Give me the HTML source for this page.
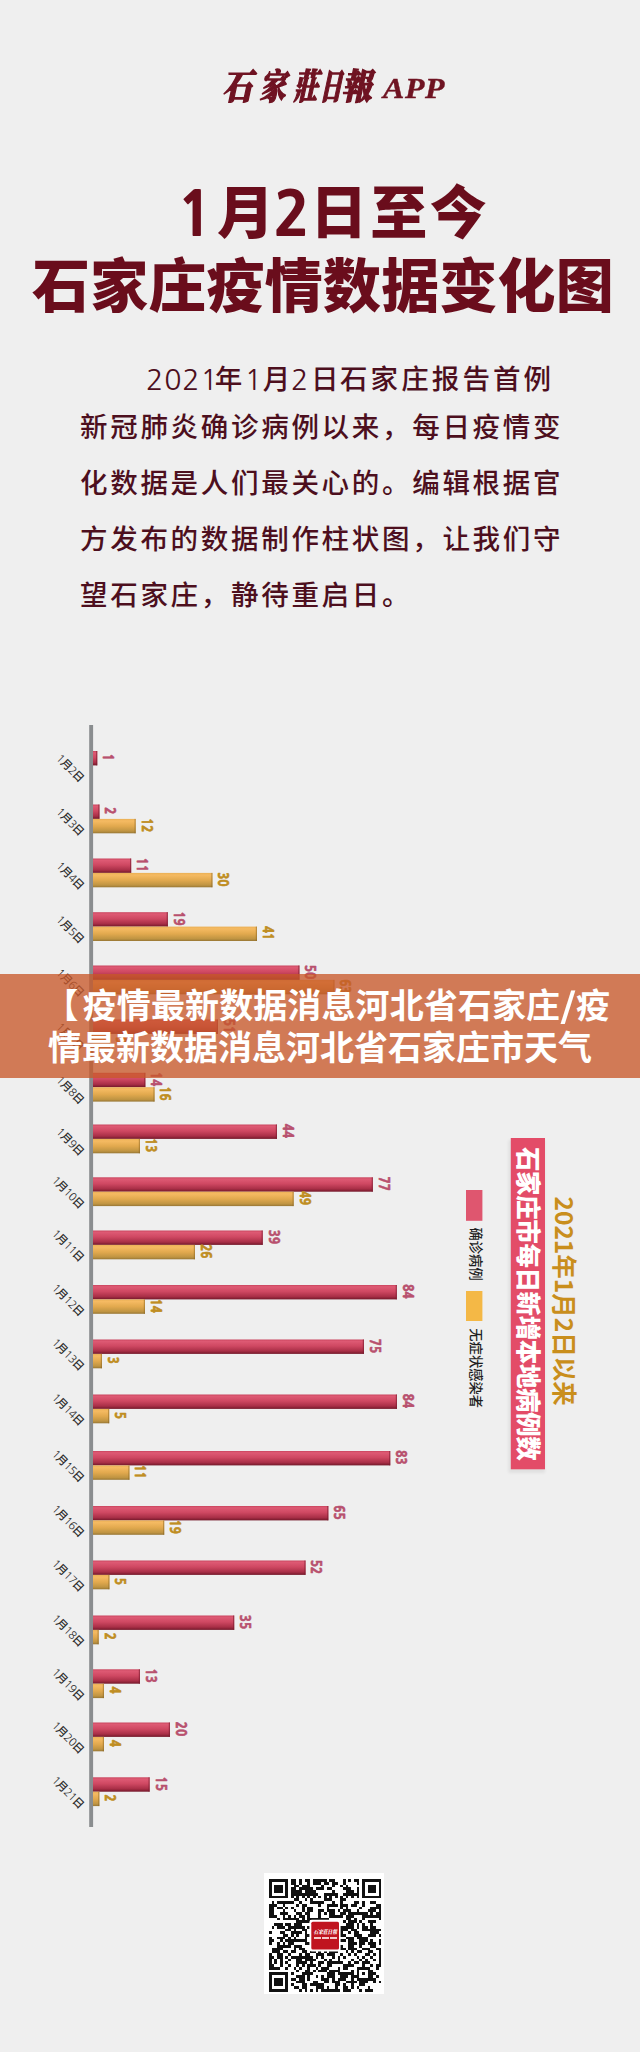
<!DOCTYPE html>
<html lang="zh-CN">
<head>
<meta charset="utf-8">
<title>石家庄疫情数据变化图</title>
<style>
html,body{margin:0;padding:0;}
body{width:640px;height:2052px;background:#efefef;position:relative;overflow:hidden;
  font-family:"Liberation Sans","Noto Sans CJK SC",sans-serif;}
.a{position:absolute;white-space:nowrap;}
.logo{left:221px;top:62px;font-family:"Noto Serif CJK TC","Noto Serif CJK SC",serif;font-weight:900;
  font-size:35px;color:#6f1322;transform:skewX(-12deg);transform-origin:0 100%;line-height:44px;width:200px;height:44px;-webkit-text-stroke:1.6px #6f1322;}
.logo span{position:absolute;top:0;display:inline-block;transform-origin:0 0;}
.app{left:383px;top:70px;font-family:"Liberation Serif",serif;font-weight:bold;font-style:italic;font-size:29px;letter-spacing:0.6px;color:#6f1322;line-height:36px;transform:scaleX(1.1);transform-origin:0 0;-webkit-text-stroke:0.4px #6f1322;}
.t1,.t2{font-family:"Noto Sans CJK SC",sans-serif;font-weight:900;color:#6a0d1c;line-height:70px;}
.t1 span{position:relative;}
.t1 .c{top:-3px;}
.t1 .d{font-family:"NanumGothic",sans-serif;font-weight:800;font-size:61px;}
.t1{left:177px;top:176px;font-size:57px;}
.t2{left:32px;top:247px;font-size:58px;letter-spacing:0.2px;}
.p{font-family:"Liberation Sans","Noto Sans CJK SC",sans-serif;font-weight:500;font-size:27.5px;letter-spacing:2.7px;color:#4d0f1e;line-height:40px;left:80px;}
.l1 span{position:absolute;top:0;}
.l1 .n{font-family:"NanumGothic",sans-serif;font-weight:normal;font-size:28.5px;letter-spacing:0.9px;}
.chart,.qr{position:absolute;left:0;top:0;}
.chart text{font-family:"Liberation Sans","Noto Sans CJK SC",sans-serif;}
.vp{font-family:'NanumGothic',sans-serif !important;font-size:13px;font-weight:800;fill:#b8506e;stroke:#b8506e;stroke-width:0.6px;}
.vg{font-family:'NanumGothic',sans-serif !important;font-size:13px;font-weight:800;fill:#bf8d22;stroke:#bf8d22;stroke-width:0.6px;}
.dl{font-size:11px;font-weight:500;fill:#2c2c2c;letter-spacing:-0.45px;}
.dn{font-family:'NanumGothic',sans-serif;}
.vt{font-family:"Noto Sans CJK SC",sans-serif !important;font-size:24.5px;font-weight:900;letter-spacing:-0.4px;fill:#fff;}
.st{font-family:"Noto Sans CJK SC",sans-serif !important;font-size:24.5px;font-weight:bold;letter-spacing:0;fill:#c98e1c;}
.lg{font-family:"Noto Sans CJK SC",sans-serif !important;font-size:13.3px;font-weight:500;fill:#1e1e1e;}
.banner{left:0;top:974px;width:640px;height:103.5px;background:rgba(200,88,42,0.78);}
.b1 span{position:absolute;top:0;}
.bt{left:50px;font-family:"Noto Sans CJK SC",sans-serif;font-weight:bold;font-size:34px;color:#fff;line-height:42px;}
</style>
</head>
<body>
<div class="a logo"><span style="left:0;transform:scaleX(0.84)">石</span><span style="left:37px;transform:scaleX(0.74)">家</span><span style="left:70.5px;transform:scaleX(0.68)">莊</span><span style="left:97px;transform:scaleX(0.62)">日</span><span style="left:118.5px;transform:scaleX(0.85)">報</span></div>
<div class="a app">APP</div>
<div class="a t1"><span class="d">1</span><span class="c" style="left:3.1px">月</span><span class="d" style="left:2.3px">2</span><span class="c" style="left:2.4px">日</span><span class="c" style="left:5.3px">至</span><span class="c" style="left:7.9px">今</span></div>
<div class="a t2">石家庄疫情数据变化图</div>
<div class="a p l1" style="top:360.3px;left:0;"><span class="n" style="left:146px">2021</span><span style="left:214.8px">年</span><span class="n" style="left:244.8px">1</span><span style="left:262.75px">月</span><span class="n" style="left:291px">2</span><span style="left:311px">日</span><span style="left:340px;letter-spacing:3.1px">石家庄报告首例</span></div>
<div class="a p" style="top:408.1px;">新冠肺炎确诊病例以来，每日疫情变</div>
<div class="a p" style="top:463.75px;">化数据是人们最关心的。编辑根据官</div>
<div class="a p" style="top:520px;">方发布的数据制作柱状图，让我们守</div>
<div class="a p" style="top:576.25px;">望石家庄，静待重启日。</div>
<svg class="chart" width="640" height="2052" viewBox="0 0 640 2052">
<defs>
<linearGradient id="gp" x1="0" y1="0" x2="0" y2="1">
<stop offset="0" stop-color="#c9445d"/><stop offset="0.12" stop-color="#de5a74"/><stop offset="0.45" stop-color="#cf4862"/><stop offset="0.8" stop-color="#a92f47"/><stop offset="1" stop-color="#73182a"/>
</linearGradient>
<linearGradient id="gg" x1="0" y1="0" x2="0" y2="1">
<stop offset="0" stop-color="#eab056"/><stop offset="0.15" stop-color="#f5ba62"/><stop offset="0.5" stop-color="#e2a94e"/><stop offset="0.85" stop-color="#bf9442"/><stop offset="1" stop-color="#977634"/>
</linearGradient>
<filter id="blur" x="-20%" y="-20%" width="140%" height="140%"><feGaussianBlur stdDeviation="1.5"/></filter>
</defs>
<rect x="89.2" y="725" width="3.9" height="1102" fill="#8a8d8f"/>

<rect x="93.0" y="751.0" width="4.30" height="14.4" fill="url(#gp)"/>
<rect x="96.10" y="751.0" width="1.2" height="14.4" fill="#7a1a2e" opacity="0.6"/>
<text class="vp" text-anchor="middle" transform="translate(103.10,757.40) rotate(90) scale(0.9,1)">1</text>
<text class="dl" text-anchor="end" transform="translate(79.3,782.80) rotate(45)"><tspan class="dn">1</tspan>月<tspan class="dn">2</tspan>日</text>
<rect x="93.0" y="804.5" width="6.50" height="14.4" fill="url(#gp)"/>
<rect x="98.30" y="804.5" width="1.2" height="14.4" fill="#7a1a2e" opacity="0.6"/>
<text class="vp" text-anchor="middle" transform="translate(105.30,810.90) rotate(90) scale(0.9,1)">2</text>
<rect x="93.0" y="818.90" width="42.75" height="14.4" fill="url(#gg)"/>
<rect x="134.55" y="818.90" width="1.2" height="14.4" fill="#8a6420" opacity="0.5"/>
<text class="vg" text-anchor="middle" transform="translate(141.55,825.30) rotate(90) scale(0.9,1)">12</text>
<text class="dl" text-anchor="end" transform="translate(79.3,836.30) rotate(45)"><tspan class="dn">1</tspan>月<tspan class="dn">3</tspan>日</text>
<rect x="93.0" y="858.5" width="38.20" height="14.4" fill="url(#gp)"/>
<rect x="130.00" y="858.5" width="1.2" height="14.4" fill="#7a1a2e" opacity="0.6"/>
<text class="vp" text-anchor="middle" transform="translate(137.00,864.90) rotate(90) scale(0.9,1)">11</text>
<rect x="93.0" y="872.90" width="119.50" height="14.4" fill="url(#gg)"/>
<rect x="211.30" y="872.90" width="1.2" height="14.4" fill="#8a6420" opacity="0.5"/>
<text class="vg" text-anchor="middle" transform="translate(218.30,879.30) rotate(90) scale(0.9,1)">30</text>
<text class="dl" text-anchor="end" transform="translate(79.3,890.30) rotate(45)"><tspan class="dn">1</tspan>月<tspan class="dn">4</tspan>日</text>
<rect x="93.0" y="912.2" width="74.90" height="14.4" fill="url(#gp)"/>
<rect x="166.70" y="912.2" width="1.2" height="14.4" fill="#7a1a2e" opacity="0.6"/>
<text class="vp" text-anchor="middle" transform="translate(173.70,918.60) rotate(90) scale(0.9,1)">19</text>
<rect x="93.0" y="926.60" width="164.00" height="14.4" fill="url(#gg)"/>
<rect x="255.80" y="926.60" width="1.2" height="14.4" fill="#8a6420" opacity="0.5"/>
<text class="vg" text-anchor="middle" transform="translate(262.80,933.00) rotate(90) scale(0.9,1)">41</text>
<text class="dl" text-anchor="end" transform="translate(79.3,944.00) rotate(45)"><tspan class="dn">1</tspan>月<tspan class="dn">5</tspan>日</text>
<rect x="93.0" y="965.5" width="206.50" height="14.4" fill="url(#gp)"/>
<rect x="298.30" y="965.5" width="1.2" height="14.4" fill="#7a1a2e" opacity="0.6"/>
<text class="vp" text-anchor="middle" transform="translate(305.30,971.90) rotate(90) scale(0.9,1)">50</text>
<rect x="93.0" y="979.90" width="241.50" height="14.4" fill="url(#gg)"/>
<rect x="333.30" y="979.90" width="1.2" height="14.4" fill="#8a6420" opacity="0.5"/>
<text class="vg" text-anchor="middle" transform="translate(340.30,986.30) rotate(90) scale(0.9,1)">63</text>
<text class="dl" text-anchor="end" transform="translate(79.3,997.30) rotate(45)"><tspan class="dn">1</tspan>月<tspan class="dn">6</tspan>日</text>
<rect x="93.0" y="1019.5" width="125.00" height="14.4" fill="url(#gp)"/>
<rect x="216.80" y="1019.5" width="1.2" height="14.4" fill="#7a1a2e" opacity="0.6"/>
<text class="vp" text-anchor="middle" transform="translate(223.80,1025.90) rotate(90) scale(0.9,1)">51</text>
<rect x="93.0" y="1033.90" width="17.00" height="14.4" fill="url(#gg)"/>
<rect x="108.80" y="1033.90" width="1.2" height="14.4" fill="#8a6420" opacity="0.5"/>
<text class="vg" text-anchor="middle" transform="translate(115.80,1040.30) rotate(90) scale(0.9,1)">9</text>
<text class="dl" text-anchor="end" transform="translate(79.3,1051.30) rotate(45)"><tspan class="dn">1</tspan>月<tspan class="dn">7</tspan>日</text>
<rect x="93.0" y="1072.8" width="52.40" height="14.4" fill="url(#gp)"/>
<rect x="144.20" y="1072.8" width="1.2" height="14.4" fill="#7a1a2e" opacity="0.6"/>
<text class="vp" text-anchor="middle" transform="translate(151.20,1079.20) rotate(90) scale(0.9,1)">14</text>
<rect x="93.0" y="1087.20" width="61.60" height="14.4" fill="url(#gg)"/>
<rect x="153.40" y="1087.20" width="1.2" height="14.4" fill="#8a6420" opacity="0.5"/>
<text class="vg" text-anchor="middle" transform="translate(160.40,1093.60) rotate(90) scale(0.9,1)">16</text>
<text class="dl" text-anchor="end" transform="translate(79.3,1104.60) rotate(45)"><tspan class="dn">1</tspan>月<tspan class="dn">8</tspan>日</text>
<rect x="93.0" y="1124.5" width="184.00" height="14.4" fill="url(#gp)"/>
<rect x="275.80" y="1124.5" width="1.2" height="14.4" fill="#7a1a2e" opacity="0.6"/>
<text class="vp" text-anchor="middle" transform="translate(282.80,1130.90) rotate(90) scale(0.9,1)">44</text>
<rect x="93.0" y="1138.90" width="47.00" height="14.4" fill="url(#gg)"/>
<rect x="138.80" y="1138.90" width="1.2" height="14.4" fill="#8a6420" opacity="0.5"/>
<text class="vg" text-anchor="middle" transform="translate(145.80,1145.30) rotate(90) scale(0.9,1)">13</text>
<text class="dl" text-anchor="end" transform="translate(79.3,1156.30) rotate(45)"><tspan class="dn">1</tspan>月<tspan class="dn">9</tspan>日</text>
<rect x="93.0" y="1177.3" width="279.90" height="14.4" fill="url(#gp)"/>
<rect x="371.70" y="1177.3" width="1.2" height="14.4" fill="#7a1a2e" opacity="0.6"/>
<text class="vp" text-anchor="middle" transform="translate(378.70,1183.70) rotate(90) scale(0.9,1)">77</text>
<rect x="93.0" y="1191.70" width="200.75" height="14.4" fill="url(#gg)"/>
<rect x="292.55" y="1191.70" width="1.2" height="14.4" fill="#8a6420" opacity="0.5"/>
<text class="vg" text-anchor="middle" transform="translate(299.55,1198.10) rotate(90) scale(0.9,1)">49</text>
<text class="dl" text-anchor="end" transform="translate(79.3,1209.10) rotate(45)"><tspan class="dn">1</tspan>月<tspan class="dn">10</tspan>日</text>
<rect x="93.0" y="1230.5" width="169.80" height="14.4" fill="url(#gp)"/>
<rect x="261.60" y="1230.5" width="1.2" height="14.4" fill="#7a1a2e" opacity="0.6"/>
<text class="vp" text-anchor="middle" transform="translate(268.60,1236.90) rotate(90) scale(0.9,1)">39</text>
<rect x="93.0" y="1244.90" width="102.00" height="14.4" fill="url(#gg)"/>
<rect x="193.80" y="1244.90" width="1.2" height="14.4" fill="#8a6420" opacity="0.5"/>
<text class="vg" text-anchor="middle" transform="translate(200.80,1251.30) rotate(90) scale(0.9,1)">26</text>
<text class="dl" text-anchor="end" transform="translate(79.3,1262.30) rotate(45)"><tspan class="dn">1</tspan>月<tspan class="dn">11</tspan>日</text>
<rect x="93.0" y="1285.0" width="303.90" height="14.4" fill="url(#gp)"/>
<rect x="395.70" y="1285.0" width="1.2" height="14.4" fill="#7a1a2e" opacity="0.6"/>
<text class="vp" text-anchor="middle" transform="translate(402.70,1291.40) rotate(90) scale(0.9,1)">84</text>
<rect x="93.0" y="1299.40" width="52.00" height="14.4" fill="url(#gg)"/>
<rect x="143.80" y="1299.40" width="1.2" height="14.4" fill="#8a6420" opacity="0.5"/>
<text class="vg" text-anchor="middle" transform="translate(150.80,1305.80) rotate(90) scale(0.9,1)">14</text>
<text class="dl" text-anchor="end" transform="translate(79.3,1316.80) rotate(45)"><tspan class="dn">1</tspan>月<tspan class="dn">12</tspan>日</text>
<rect x="93.0" y="1339.5" width="271.00" height="14.4" fill="url(#gp)"/>
<rect x="362.80" y="1339.5" width="1.2" height="14.4" fill="#7a1a2e" opacity="0.6"/>
<text class="vp" text-anchor="middle" transform="translate(369.80,1345.90) rotate(90) scale(0.9,1)">75</text>
<rect x="93.0" y="1353.90" width="9.00" height="14.4" fill="url(#gg)"/>
<rect x="100.80" y="1353.90" width="1.2" height="14.4" fill="#8a6420" opacity="0.5"/>
<text class="vg" text-anchor="middle" transform="translate(107.80,1360.30) rotate(90) scale(0.9,1)">3</text>
<text class="dl" text-anchor="end" transform="translate(79.3,1371.30) rotate(45)"><tspan class="dn">1</tspan>月<tspan class="dn">13</tspan>日</text>
<rect x="93.0" y="1394.5" width="304.00" height="14.4" fill="url(#gp)"/>
<rect x="395.80" y="1394.5" width="1.2" height="14.4" fill="#7a1a2e" opacity="0.6"/>
<text class="vp" text-anchor="middle" transform="translate(402.80,1400.90) rotate(90) scale(0.9,1)">84</text>
<rect x="93.0" y="1408.90" width="16.25" height="14.4" fill="url(#gg)"/>
<rect x="108.05" y="1408.90" width="1.2" height="14.4" fill="#8a6420" opacity="0.5"/>
<text class="vg" text-anchor="middle" transform="translate(115.05,1415.30) rotate(90) scale(0.9,1)">5</text>
<text class="dl" text-anchor="end" transform="translate(79.3,1426.30) rotate(45)"><tspan class="dn">1</tspan>月<tspan class="dn">14</tspan>日</text>
<rect x="93.0" y="1451.0" width="297.30" height="14.4" fill="url(#gp)"/>
<rect x="389.10" y="1451.0" width="1.2" height="14.4" fill="#7a1a2e" opacity="0.6"/>
<text class="vp" text-anchor="middle" transform="translate(396.10,1457.40) rotate(90) scale(0.9,1)">83</text>
<rect x="93.0" y="1465.40" width="36.50" height="14.4" fill="url(#gg)"/>
<rect x="128.30" y="1465.40" width="1.2" height="14.4" fill="#8a6420" opacity="0.5"/>
<text class="vg" text-anchor="middle" transform="translate(135.30,1471.80) rotate(90) scale(0.9,1)">11</text>
<text class="dl" text-anchor="end" transform="translate(79.3,1482.80) rotate(45)"><tspan class="dn">1</tspan>月<tspan class="dn">15</tspan>日</text>
<rect x="93.0" y="1506.0" width="235.40" height="14.4" fill="url(#gp)"/>
<rect x="327.20" y="1506.0" width="1.2" height="14.4" fill="#7a1a2e" opacity="0.6"/>
<text class="vp" text-anchor="middle" transform="translate(334.20,1512.40) rotate(90) scale(0.9,1)">65</text>
<rect x="93.0" y="1520.40" width="71.25" height="14.4" fill="url(#gg)"/>
<rect x="163.05" y="1520.40" width="1.2" height="14.4" fill="#8a6420" opacity="0.5"/>
<text class="vg" text-anchor="middle" transform="translate(170.05,1526.80) rotate(90) scale(0.9,1)">19</text>
<text class="dl" text-anchor="end" transform="translate(79.3,1537.80) rotate(45)"><tspan class="dn">1</tspan>月<tspan class="dn">16</tspan>日</text>
<rect x="93.0" y="1560.5" width="212.60" height="14.4" fill="url(#gp)"/>
<rect x="304.40" y="1560.5" width="1.2" height="14.4" fill="#7a1a2e" opacity="0.6"/>
<text class="vp" text-anchor="middle" transform="translate(311.40,1566.90) rotate(90) scale(0.9,1)">52</text>
<rect x="93.0" y="1574.90" width="16.50" height="14.4" fill="url(#gg)"/>
<rect x="108.30" y="1574.90" width="1.2" height="14.4" fill="#8a6420" opacity="0.5"/>
<text class="vg" text-anchor="middle" transform="translate(115.30,1581.30) rotate(90) scale(0.9,1)">5</text>
<text class="dl" text-anchor="end" transform="translate(79.3,1592.30) rotate(45)"><tspan class="dn">1</tspan>月<tspan class="dn">17</tspan>日</text>
<rect x="93.0" y="1615.5" width="141.25" height="14.4" fill="url(#gp)"/>
<rect x="233.05" y="1615.5" width="1.2" height="14.4" fill="#7a1a2e" opacity="0.6"/>
<text class="vp" text-anchor="middle" transform="translate(240.05,1621.90) rotate(90) scale(0.9,1)">35</text>
<rect x="93.0" y="1629.90" width="5.75" height="14.4" fill="url(#gg)"/>
<rect x="97.55" y="1629.90" width="1.2" height="14.4" fill="#8a6420" opacity="0.5"/>
<text class="vg" text-anchor="middle" transform="translate(104.55,1636.30) rotate(90) scale(0.9,1)">2</text>
<text class="dl" text-anchor="end" transform="translate(79.3,1647.30) rotate(45)"><tspan class="dn">1</tspan>月<tspan class="dn">18</tspan>日</text>
<rect x="93.0" y="1669.3" width="47.00" height="14.4" fill="url(#gp)"/>
<rect x="138.80" y="1669.3" width="1.2" height="14.4" fill="#7a1a2e" opacity="0.6"/>
<text class="vp" text-anchor="middle" transform="translate(145.80,1675.70) rotate(90) scale(0.9,1)">13</text>
<rect x="93.0" y="1683.70" width="11.00" height="14.4" fill="url(#gg)"/>
<rect x="102.80" y="1683.70" width="1.2" height="14.4" fill="#8a6420" opacity="0.5"/>
<text class="vg" text-anchor="middle" transform="translate(109.80,1690.10) rotate(90) scale(0.9,1)">4</text>
<text class="dl" text-anchor="end" transform="translate(79.3,1701.10) rotate(45)"><tspan class="dn">1</tspan>月<tspan class="dn">19</tspan>日</text>
<rect x="93.0" y="1722.5" width="77.00" height="14.4" fill="url(#gp)"/>
<rect x="168.80" y="1722.5" width="1.2" height="14.4" fill="#7a1a2e" opacity="0.6"/>
<text class="vp" text-anchor="middle" transform="translate(175.80,1728.90) rotate(90) scale(0.9,1)">20</text>
<rect x="93.0" y="1736.90" width="11.00" height="14.4" fill="url(#gg)"/>
<rect x="102.80" y="1736.90" width="1.2" height="14.4" fill="#8a6420" opacity="0.5"/>
<text class="vg" text-anchor="middle" transform="translate(109.80,1743.30) rotate(90) scale(0.9,1)">4</text>
<text class="dl" text-anchor="end" transform="translate(79.3,1754.30) rotate(45)"><tspan class="dn">1</tspan>月<tspan class="dn">20</tspan>日</text>
<rect x="93.0" y="1777.3" width="56.70" height="14.4" fill="url(#gp)"/>
<rect x="148.50" y="1777.3" width="1.2" height="14.4" fill="#7a1a2e" opacity="0.6"/>
<text class="vp" text-anchor="middle" transform="translate(155.50,1783.70) rotate(90) scale(0.9,1)">15</text>
<rect x="93.0" y="1791.70" width="6.40" height="14.4" fill="url(#gg)"/>
<rect x="98.20" y="1791.70" width="1.2" height="14.4" fill="#8a6420" opacity="0.5"/>
<text class="vg" text-anchor="middle" transform="translate(105.20,1798.10) rotate(90) scale(0.9,1)">2</text>
<text class="dl" text-anchor="end" transform="translate(79.3,1809.10) rotate(45)"><tspan class="dn">1</tspan>月<tspan class="dn">21</tspan>日</text>
<rect x="508.5" y="1140" width="36.5" height="333" fill="#000" opacity="0.06" filter="url(#blur)"/>
<rect x="510.8" y="1138" width="34.2" height="331.3" fill="#e34c68"/>
<text class="vt" transform="translate(518.7,1147) rotate(90)">石家庄市每日新增本地病例数</text>
<text class="st" transform="translate(555,1196.5) rotate(90)">2021年1月2日以来</text>
<rect x="466" y="1190" width="16.4" height="30.8" fill="#df566f"/>
<rect x="466" y="1291" width="16.4" height="30" fill="#f4b846"/>
<text class="lg" transform="translate(470.5,1227.5) rotate(90)">确诊病例</text>
<text class="lg" transform="translate(470.5,1328.3) rotate(90)">无症状感染者</text>

</svg>
<svg class="qr" width="640" height="2052" viewBox="0 0 640 2052" shape-rendering="crispEdges">
<rect x="263.7" y="1873" width="120.6" height="121" fill="#ffffff"/>
<path d="M269.00 1879.20h2.74v2.74h-2.74zM271.74 1879.20h2.74v2.74h-2.74zM274.48 1879.20h2.74v2.74h-2.74zM277.22 1879.20h2.74v2.74h-2.74zM279.96 1879.20h2.74v2.74h-2.74zM282.70 1879.20h2.74v2.74h-2.74zM285.44 1879.20h2.74v2.74h-2.74zM290.92 1879.20h2.74v2.74h-2.74zM293.66 1879.20h2.74v2.74h-2.74zM299.14 1879.20h2.74v2.74h-2.74zM304.62 1879.20h2.74v2.74h-2.74zM307.36 1879.20h2.74v2.74h-2.74zM312.84 1879.20h2.74v2.74h-2.74zM315.58 1879.20h2.74v2.74h-2.74zM318.32 1879.20h2.74v2.74h-2.74zM321.06 1879.20h2.74v2.74h-2.74zM323.80 1879.20h2.74v2.74h-2.74zM329.28 1879.20h2.74v2.74h-2.74zM332.02 1879.20h2.74v2.74h-2.74zM342.98 1879.20h2.74v2.74h-2.74zM348.46 1879.20h2.74v2.74h-2.74zM353.94 1879.20h2.74v2.74h-2.74zM356.68 1879.20h2.74v2.74h-2.74zM362.16 1879.20h2.74v2.74h-2.74zM364.90 1879.20h2.74v2.74h-2.74zM367.64 1879.20h2.74v2.74h-2.74zM370.38 1879.20h2.74v2.74h-2.74zM373.12 1879.20h2.74v2.74h-2.74zM375.86 1879.20h2.74v2.74h-2.74zM378.60 1879.20h2.74v2.74h-2.74zM269.00 1881.94h2.74v2.74h-2.74zM285.44 1881.94h2.74v2.74h-2.74zM290.92 1881.94h2.74v2.74h-2.74zM293.66 1881.94h2.74v2.74h-2.74zM299.14 1881.94h2.74v2.74h-2.74zM307.36 1881.94h2.74v2.74h-2.74zM312.84 1881.94h2.74v2.74h-2.74zM315.58 1881.94h2.74v2.74h-2.74zM318.32 1881.94h2.74v2.74h-2.74zM323.80 1881.94h2.74v2.74h-2.74zM326.54 1881.94h2.74v2.74h-2.74zM332.02 1881.94h2.74v2.74h-2.74zM334.76 1881.94h2.74v2.74h-2.74zM342.98 1881.94h2.74v2.74h-2.74zM356.68 1881.94h2.74v2.74h-2.74zM362.16 1881.94h2.74v2.74h-2.74zM378.60 1881.94h2.74v2.74h-2.74zM269.00 1884.68h2.74v2.74h-2.74zM274.48 1884.68h2.74v2.74h-2.74zM277.22 1884.68h2.74v2.74h-2.74zM279.96 1884.68h2.74v2.74h-2.74zM285.44 1884.68h2.74v2.74h-2.74zM293.66 1884.68h2.74v2.74h-2.74zM296.40 1884.68h2.74v2.74h-2.74zM301.88 1884.68h2.74v2.74h-2.74zM304.62 1884.68h2.74v2.74h-2.74zM307.36 1884.68h2.74v2.74h-2.74zM321.06 1884.68h2.74v2.74h-2.74zM332.02 1884.68h2.74v2.74h-2.74zM340.24 1884.68h2.74v2.74h-2.74zM345.72 1884.68h2.74v2.74h-2.74zM362.16 1884.68h2.74v2.74h-2.74zM367.64 1884.68h2.74v2.74h-2.74zM370.38 1884.68h2.74v2.74h-2.74zM373.12 1884.68h2.74v2.74h-2.74zM378.60 1884.68h2.74v2.74h-2.74zM269.00 1887.42h2.74v2.74h-2.74zM274.48 1887.42h2.74v2.74h-2.74zM277.22 1887.42h2.74v2.74h-2.74zM279.96 1887.42h2.74v2.74h-2.74zM285.44 1887.42h2.74v2.74h-2.74zM290.92 1887.42h2.74v2.74h-2.74zM293.66 1887.42h2.74v2.74h-2.74zM299.14 1887.42h2.74v2.74h-2.74zM301.88 1887.42h2.74v2.74h-2.74zM304.62 1887.42h2.74v2.74h-2.74zM307.36 1887.42h2.74v2.74h-2.74zM310.10 1887.42h2.74v2.74h-2.74zM315.58 1887.42h2.74v2.74h-2.74zM318.32 1887.42h2.74v2.74h-2.74zM321.06 1887.42h2.74v2.74h-2.74zM326.54 1887.42h2.74v2.74h-2.74zM329.28 1887.42h2.74v2.74h-2.74zM342.98 1887.42h2.74v2.74h-2.74zM345.72 1887.42h2.74v2.74h-2.74zM348.46 1887.42h2.74v2.74h-2.74zM356.68 1887.42h2.74v2.74h-2.74zM362.16 1887.42h2.74v2.74h-2.74zM367.64 1887.42h2.74v2.74h-2.74zM370.38 1887.42h2.74v2.74h-2.74zM373.12 1887.42h2.74v2.74h-2.74zM378.60 1887.42h2.74v2.74h-2.74zM269.00 1890.16h2.74v2.74h-2.74zM274.48 1890.16h2.74v2.74h-2.74zM277.22 1890.16h2.74v2.74h-2.74zM279.96 1890.16h2.74v2.74h-2.74zM285.44 1890.16h2.74v2.74h-2.74zM290.92 1890.16h2.74v2.74h-2.74zM293.66 1890.16h2.74v2.74h-2.74zM296.40 1890.16h2.74v2.74h-2.74zM299.14 1890.16h2.74v2.74h-2.74zM304.62 1890.16h2.74v2.74h-2.74zM307.36 1890.16h2.74v2.74h-2.74zM310.10 1890.16h2.74v2.74h-2.74zM312.84 1890.16h2.74v2.74h-2.74zM332.02 1890.16h2.74v2.74h-2.74zM345.72 1890.16h2.74v2.74h-2.74zM348.46 1890.16h2.74v2.74h-2.74zM351.20 1890.16h2.74v2.74h-2.74zM356.68 1890.16h2.74v2.74h-2.74zM362.16 1890.16h2.74v2.74h-2.74zM367.64 1890.16h2.74v2.74h-2.74zM370.38 1890.16h2.74v2.74h-2.74zM373.12 1890.16h2.74v2.74h-2.74zM378.60 1890.16h2.74v2.74h-2.74zM269.00 1892.90h2.74v2.74h-2.74zM285.44 1892.90h2.74v2.74h-2.74zM290.92 1892.90h2.74v2.74h-2.74zM293.66 1892.90h2.74v2.74h-2.74zM296.40 1892.90h2.74v2.74h-2.74zM299.14 1892.90h2.74v2.74h-2.74zM301.88 1892.90h2.74v2.74h-2.74zM304.62 1892.90h2.74v2.74h-2.74zM307.36 1892.90h2.74v2.74h-2.74zM310.10 1892.90h2.74v2.74h-2.74zM312.84 1892.90h2.74v2.74h-2.74zM315.58 1892.90h2.74v2.74h-2.74zM323.80 1892.90h2.74v2.74h-2.74zM326.54 1892.90h2.74v2.74h-2.74zM329.28 1892.90h2.74v2.74h-2.74zM332.02 1892.90h2.74v2.74h-2.74zM334.76 1892.90h2.74v2.74h-2.74zM342.98 1892.90h2.74v2.74h-2.74zM345.72 1892.90h2.74v2.74h-2.74zM348.46 1892.90h2.74v2.74h-2.74zM351.20 1892.90h2.74v2.74h-2.74zM353.94 1892.90h2.74v2.74h-2.74zM356.68 1892.90h2.74v2.74h-2.74zM362.16 1892.90h2.74v2.74h-2.74zM378.60 1892.90h2.74v2.74h-2.74zM269.00 1895.64h2.74v2.74h-2.74zM271.74 1895.64h2.74v2.74h-2.74zM274.48 1895.64h2.74v2.74h-2.74zM277.22 1895.64h2.74v2.74h-2.74zM279.96 1895.64h2.74v2.74h-2.74zM282.70 1895.64h2.74v2.74h-2.74zM285.44 1895.64h2.74v2.74h-2.74zM290.92 1895.64h2.74v2.74h-2.74zM296.40 1895.64h2.74v2.74h-2.74zM301.88 1895.64h2.74v2.74h-2.74zM307.36 1895.64h2.74v2.74h-2.74zM312.84 1895.64h2.74v2.74h-2.74zM318.32 1895.64h2.74v2.74h-2.74zM323.80 1895.64h2.74v2.74h-2.74zM329.28 1895.64h2.74v2.74h-2.74zM334.76 1895.64h2.74v2.74h-2.74zM340.24 1895.64h2.74v2.74h-2.74zM345.72 1895.64h2.74v2.74h-2.74zM351.20 1895.64h2.74v2.74h-2.74zM356.68 1895.64h2.74v2.74h-2.74zM362.16 1895.64h2.74v2.74h-2.74zM364.90 1895.64h2.74v2.74h-2.74zM367.64 1895.64h2.74v2.74h-2.74zM370.38 1895.64h2.74v2.74h-2.74zM373.12 1895.64h2.74v2.74h-2.74zM375.86 1895.64h2.74v2.74h-2.74zM378.60 1895.64h2.74v2.74h-2.74zM293.66 1898.38h2.74v2.74h-2.74zM296.40 1898.38h2.74v2.74h-2.74zM304.62 1898.38h2.74v2.74h-2.74zM310.10 1898.38h2.74v2.74h-2.74zM323.80 1898.38h2.74v2.74h-2.74zM326.54 1898.38h2.74v2.74h-2.74zM329.28 1898.38h2.74v2.74h-2.74zM340.24 1898.38h2.74v2.74h-2.74zM342.98 1898.38h2.74v2.74h-2.74zM271.74 1901.12h2.74v2.74h-2.74zM277.22 1901.12h2.74v2.74h-2.74zM279.96 1901.12h2.74v2.74h-2.74zM282.70 1901.12h2.74v2.74h-2.74zM285.44 1901.12h2.74v2.74h-2.74zM288.18 1901.12h2.74v2.74h-2.74zM290.92 1901.12h2.74v2.74h-2.74zM299.14 1901.12h2.74v2.74h-2.74zM310.10 1901.12h2.74v2.74h-2.74zM312.84 1901.12h2.74v2.74h-2.74zM315.58 1901.12h2.74v2.74h-2.74zM318.32 1901.12h2.74v2.74h-2.74zM321.06 1901.12h2.74v2.74h-2.74zM332.02 1901.12h2.74v2.74h-2.74zM340.24 1901.12h2.74v2.74h-2.74zM353.94 1901.12h2.74v2.74h-2.74zM356.68 1901.12h2.74v2.74h-2.74zM362.16 1901.12h2.74v2.74h-2.74zM370.38 1901.12h2.74v2.74h-2.74zM373.12 1901.12h2.74v2.74h-2.74zM269.00 1903.86h2.74v2.74h-2.74zM271.74 1903.86h2.74v2.74h-2.74zM274.48 1903.86h2.74v2.74h-2.74zM282.70 1903.86h2.74v2.74h-2.74zM296.40 1903.86h2.74v2.74h-2.74zM301.88 1903.86h2.74v2.74h-2.74zM304.62 1903.86h2.74v2.74h-2.74zM318.32 1903.86h2.74v2.74h-2.74zM326.54 1903.86h2.74v2.74h-2.74zM329.28 1903.86h2.74v2.74h-2.74zM332.02 1903.86h2.74v2.74h-2.74zM334.76 1903.86h2.74v2.74h-2.74zM340.24 1903.86h2.74v2.74h-2.74zM342.98 1903.86h2.74v2.74h-2.74zM345.72 1903.86h2.74v2.74h-2.74zM351.20 1903.86h2.74v2.74h-2.74zM353.94 1903.86h2.74v2.74h-2.74zM362.16 1903.86h2.74v2.74h-2.74zM375.86 1903.86h2.74v2.74h-2.74zM378.60 1903.86h2.74v2.74h-2.74zM269.00 1906.60h2.74v2.74h-2.74zM271.74 1906.60h2.74v2.74h-2.74zM277.22 1906.60h2.74v2.74h-2.74zM279.96 1906.60h2.74v2.74h-2.74zM285.44 1906.60h2.74v2.74h-2.74zM290.92 1906.60h2.74v2.74h-2.74zM301.88 1906.60h2.74v2.74h-2.74zM307.36 1906.60h2.74v2.74h-2.74zM310.10 1906.60h2.74v2.74h-2.74zM326.54 1906.60h2.74v2.74h-2.74zM340.24 1906.60h2.74v2.74h-2.74zM345.72 1906.60h2.74v2.74h-2.74zM359.42 1906.60h2.74v2.74h-2.74zM370.38 1906.60h2.74v2.74h-2.74zM373.12 1906.60h2.74v2.74h-2.74zM375.86 1906.60h2.74v2.74h-2.74zM378.60 1906.60h2.74v2.74h-2.74zM269.00 1909.34h2.74v2.74h-2.74zM271.74 1909.34h2.74v2.74h-2.74zM282.70 1909.34h2.74v2.74h-2.74zM293.66 1909.34h2.74v2.74h-2.74zM301.88 1909.34h2.74v2.74h-2.74zM307.36 1909.34h2.74v2.74h-2.74zM310.10 1909.34h2.74v2.74h-2.74zM318.32 1909.34h2.74v2.74h-2.74zM321.06 1909.34h2.74v2.74h-2.74zM326.54 1909.34h2.74v2.74h-2.74zM329.28 1909.34h2.74v2.74h-2.74zM332.02 1909.34h2.74v2.74h-2.74zM337.50 1909.34h2.74v2.74h-2.74zM342.98 1909.34h2.74v2.74h-2.74zM345.72 1909.34h2.74v2.74h-2.74zM348.46 1909.34h2.74v2.74h-2.74zM356.68 1909.34h2.74v2.74h-2.74zM367.64 1909.34h2.74v2.74h-2.74zM370.38 1909.34h2.74v2.74h-2.74zM373.12 1909.34h2.74v2.74h-2.74zM378.60 1909.34h2.74v2.74h-2.74zM269.00 1912.08h2.74v2.74h-2.74zM271.74 1912.08h2.74v2.74h-2.74zM279.96 1912.08h2.74v2.74h-2.74zM282.70 1912.08h2.74v2.74h-2.74zM285.44 1912.08h2.74v2.74h-2.74zM296.40 1912.08h2.74v2.74h-2.74zM299.14 1912.08h2.74v2.74h-2.74zM304.62 1912.08h2.74v2.74h-2.74zM307.36 1912.08h2.74v2.74h-2.74zM318.32 1912.08h2.74v2.74h-2.74zM323.80 1912.08h2.74v2.74h-2.74zM329.28 1912.08h2.74v2.74h-2.74zM332.02 1912.08h2.74v2.74h-2.74zM340.24 1912.08h2.74v2.74h-2.74zM342.98 1912.08h2.74v2.74h-2.74zM348.46 1912.08h2.74v2.74h-2.74zM351.20 1912.08h2.74v2.74h-2.74zM353.94 1912.08h2.74v2.74h-2.74zM356.68 1912.08h2.74v2.74h-2.74zM359.42 1912.08h2.74v2.74h-2.74zM362.16 1912.08h2.74v2.74h-2.74zM364.90 1912.08h2.74v2.74h-2.74zM370.38 1912.08h2.74v2.74h-2.74zM375.86 1912.08h2.74v2.74h-2.74zM378.60 1912.08h2.74v2.74h-2.74zM269.00 1914.82h2.74v2.74h-2.74zM271.74 1914.82h2.74v2.74h-2.74zM274.48 1914.82h2.74v2.74h-2.74zM282.70 1914.82h2.74v2.74h-2.74zM288.18 1914.82h2.74v2.74h-2.74zM293.66 1914.82h2.74v2.74h-2.74zM299.14 1914.82h2.74v2.74h-2.74zM301.88 1914.82h2.74v2.74h-2.74zM307.36 1914.82h2.74v2.74h-2.74zM318.32 1914.82h2.74v2.74h-2.74zM329.28 1914.82h2.74v2.74h-2.74zM332.02 1914.82h2.74v2.74h-2.74zM334.76 1914.82h2.74v2.74h-2.74zM337.50 1914.82h2.74v2.74h-2.74zM340.24 1914.82h2.74v2.74h-2.74zM345.72 1914.82h2.74v2.74h-2.74zM348.46 1914.82h2.74v2.74h-2.74zM351.20 1914.82h2.74v2.74h-2.74zM362.16 1914.82h2.74v2.74h-2.74zM364.90 1914.82h2.74v2.74h-2.74zM367.64 1914.82h2.74v2.74h-2.74zM370.38 1914.82h2.74v2.74h-2.74zM373.12 1914.82h2.74v2.74h-2.74zM375.86 1914.82h2.74v2.74h-2.74zM378.60 1914.82h2.74v2.74h-2.74zM277.22 1917.56h2.74v2.74h-2.74zM282.70 1917.56h2.74v2.74h-2.74zM285.44 1917.56h2.74v2.74h-2.74zM288.18 1917.56h2.74v2.74h-2.74zM290.92 1917.56h2.74v2.74h-2.74zM293.66 1917.56h2.74v2.74h-2.74zM296.40 1917.56h2.74v2.74h-2.74zM301.88 1917.56h2.74v2.74h-2.74zM307.36 1917.56h2.74v2.74h-2.74zM310.10 1917.56h2.74v2.74h-2.74zM312.84 1917.56h2.74v2.74h-2.74zM315.58 1917.56h2.74v2.74h-2.74zM318.32 1917.56h2.74v2.74h-2.74zM321.06 1917.56h2.74v2.74h-2.74zM323.80 1917.56h2.74v2.74h-2.74zM326.54 1917.56h2.74v2.74h-2.74zM345.72 1917.56h2.74v2.74h-2.74zM348.46 1917.56h2.74v2.74h-2.74zM353.94 1917.56h2.74v2.74h-2.74zM362.16 1917.56h2.74v2.74h-2.74zM378.60 1917.56h2.74v2.74h-2.74zM296.40 1920.30h2.74v2.74h-2.74zM299.14 1920.30h2.74v2.74h-2.74zM301.88 1920.30h2.74v2.74h-2.74zM304.62 1920.30h2.74v2.74h-2.74zM307.36 1920.30h2.74v2.74h-2.74zM323.80 1920.30h2.74v2.74h-2.74zM326.54 1920.30h2.74v2.74h-2.74zM342.98 1920.30h2.74v2.74h-2.74zM348.46 1920.30h2.74v2.74h-2.74zM351.20 1920.30h2.74v2.74h-2.74zM353.94 1920.30h2.74v2.74h-2.74zM359.42 1920.30h2.74v2.74h-2.74zM367.64 1920.30h2.74v2.74h-2.74zM370.38 1920.30h2.74v2.74h-2.74zM373.12 1920.30h2.74v2.74h-2.74zM274.48 1923.04h2.74v2.74h-2.74zM277.22 1923.04h2.74v2.74h-2.74zM279.96 1923.04h2.74v2.74h-2.74zM285.44 1923.04h2.74v2.74h-2.74zM288.18 1923.04h2.74v2.74h-2.74zM293.66 1923.04h2.74v2.74h-2.74zM296.40 1923.04h2.74v2.74h-2.74zM299.14 1923.04h2.74v2.74h-2.74zM310.10 1923.04h2.74v2.74h-2.74zM315.58 1923.04h2.74v2.74h-2.74zM318.32 1923.04h2.74v2.74h-2.74zM321.06 1923.04h2.74v2.74h-2.74zM326.54 1923.04h2.74v2.74h-2.74zM334.76 1923.04h2.74v2.74h-2.74zM337.50 1923.04h2.74v2.74h-2.74zM345.72 1923.04h2.74v2.74h-2.74zM348.46 1923.04h2.74v2.74h-2.74zM351.20 1923.04h2.74v2.74h-2.74zM356.68 1923.04h2.74v2.74h-2.74zM362.16 1923.04h2.74v2.74h-2.74zM370.38 1923.04h2.74v2.74h-2.74zM271.74 1925.78h2.74v2.74h-2.74zM277.22 1925.78h2.74v2.74h-2.74zM279.96 1925.78h2.74v2.74h-2.74zM282.70 1925.78h2.74v2.74h-2.74zM288.18 1925.78h2.74v2.74h-2.74zM290.92 1925.78h2.74v2.74h-2.74zM293.66 1925.78h2.74v2.74h-2.74zM296.40 1925.78h2.74v2.74h-2.74zM299.14 1925.78h2.74v2.74h-2.74zM301.88 1925.78h2.74v2.74h-2.74zM307.36 1925.78h2.74v2.74h-2.74zM315.58 1925.78h2.74v2.74h-2.74zM326.54 1925.78h2.74v2.74h-2.74zM329.28 1925.78h2.74v2.74h-2.74zM332.02 1925.78h2.74v2.74h-2.74zM340.24 1925.78h2.74v2.74h-2.74zM342.98 1925.78h2.74v2.74h-2.74zM345.72 1925.78h2.74v2.74h-2.74zM348.46 1925.78h2.74v2.74h-2.74zM351.20 1925.78h2.74v2.74h-2.74zM356.68 1925.78h2.74v2.74h-2.74zM362.16 1925.78h2.74v2.74h-2.74zM364.90 1925.78h2.74v2.74h-2.74zM370.38 1925.78h2.74v2.74h-2.74zM373.12 1925.78h2.74v2.74h-2.74zM285.44 1928.52h2.74v2.74h-2.74zM288.18 1928.52h2.74v2.74h-2.74zM293.66 1928.52h2.74v2.74h-2.74zM301.88 1928.52h2.74v2.74h-2.74zM304.62 1928.52h2.74v2.74h-2.74zM310.10 1928.52h2.74v2.74h-2.74zM312.84 1928.52h2.74v2.74h-2.74zM315.58 1928.52h2.74v2.74h-2.74zM318.32 1928.52h2.74v2.74h-2.74zM326.54 1928.52h2.74v2.74h-2.74zM332.02 1928.52h2.74v2.74h-2.74zM337.50 1928.52h2.74v2.74h-2.74zM340.24 1928.52h2.74v2.74h-2.74zM342.98 1928.52h2.74v2.74h-2.74zM345.72 1928.52h2.74v2.74h-2.74zM351.20 1928.52h2.74v2.74h-2.74zM353.94 1928.52h2.74v2.74h-2.74zM362.16 1928.52h2.74v2.74h-2.74zM364.90 1928.52h2.74v2.74h-2.74zM367.64 1928.52h2.74v2.74h-2.74zM370.38 1928.52h2.74v2.74h-2.74zM373.12 1928.52h2.74v2.74h-2.74zM375.86 1928.52h2.74v2.74h-2.74zM378.60 1928.52h2.74v2.74h-2.74zM269.00 1931.26h2.74v2.74h-2.74zM279.96 1931.26h2.74v2.74h-2.74zM282.70 1931.26h2.74v2.74h-2.74zM290.92 1931.26h2.74v2.74h-2.74zM293.66 1931.26h2.74v2.74h-2.74zM296.40 1931.26h2.74v2.74h-2.74zM299.14 1931.26h2.74v2.74h-2.74zM304.62 1931.26h2.74v2.74h-2.74zM315.58 1931.26h2.74v2.74h-2.74zM318.32 1931.26h2.74v2.74h-2.74zM321.06 1931.26h2.74v2.74h-2.74zM323.80 1931.26h2.74v2.74h-2.74zM326.54 1931.26h2.74v2.74h-2.74zM337.50 1931.26h2.74v2.74h-2.74zM340.24 1931.26h2.74v2.74h-2.74zM348.46 1931.26h2.74v2.74h-2.74zM353.94 1931.26h2.74v2.74h-2.74zM356.68 1931.26h2.74v2.74h-2.74zM370.38 1931.26h2.74v2.74h-2.74zM373.12 1931.26h2.74v2.74h-2.74zM375.86 1931.26h2.74v2.74h-2.74zM282.70 1934.00h2.74v2.74h-2.74zM285.44 1934.00h2.74v2.74h-2.74zM290.92 1934.00h2.74v2.74h-2.74zM296.40 1934.00h2.74v2.74h-2.74zM304.62 1934.00h2.74v2.74h-2.74zM307.36 1934.00h2.74v2.74h-2.74zM310.10 1934.00h2.74v2.74h-2.74zM318.32 1934.00h2.74v2.74h-2.74zM321.06 1934.00h2.74v2.74h-2.74zM329.28 1934.00h2.74v2.74h-2.74zM332.02 1934.00h2.74v2.74h-2.74zM337.50 1934.00h2.74v2.74h-2.74zM340.24 1934.00h2.74v2.74h-2.74zM342.98 1934.00h2.74v2.74h-2.74zM353.94 1934.00h2.74v2.74h-2.74zM356.68 1934.00h2.74v2.74h-2.74zM359.42 1934.00h2.74v2.74h-2.74zM367.64 1934.00h2.74v2.74h-2.74zM370.38 1934.00h2.74v2.74h-2.74zM373.12 1934.00h2.74v2.74h-2.74zM378.60 1934.00h2.74v2.74h-2.74zM269.00 1936.74h2.74v2.74h-2.74zM277.22 1936.74h2.74v2.74h-2.74zM279.96 1936.74h2.74v2.74h-2.74zM282.70 1936.74h2.74v2.74h-2.74zM288.18 1936.74h2.74v2.74h-2.74zM293.66 1936.74h2.74v2.74h-2.74zM304.62 1936.74h2.74v2.74h-2.74zM310.10 1936.74h2.74v2.74h-2.74zM315.58 1936.74h2.74v2.74h-2.74zM318.32 1936.74h2.74v2.74h-2.74zM323.80 1936.74h2.74v2.74h-2.74zM329.28 1936.74h2.74v2.74h-2.74zM332.02 1936.74h2.74v2.74h-2.74zM334.76 1936.74h2.74v2.74h-2.74zM337.50 1936.74h2.74v2.74h-2.74zM345.72 1936.74h2.74v2.74h-2.74zM348.46 1936.74h2.74v2.74h-2.74zM351.20 1936.74h2.74v2.74h-2.74zM356.68 1936.74h2.74v2.74h-2.74zM359.42 1936.74h2.74v2.74h-2.74zM362.16 1936.74h2.74v2.74h-2.74zM364.90 1936.74h2.74v2.74h-2.74zM269.00 1939.48h2.74v2.74h-2.74zM271.74 1939.48h2.74v2.74h-2.74zM279.96 1939.48h2.74v2.74h-2.74zM285.44 1939.48h2.74v2.74h-2.74zM288.18 1939.48h2.74v2.74h-2.74zM290.92 1939.48h2.74v2.74h-2.74zM293.66 1939.48h2.74v2.74h-2.74zM296.40 1939.48h2.74v2.74h-2.74zM299.14 1939.48h2.74v2.74h-2.74zM301.88 1939.48h2.74v2.74h-2.74zM304.62 1939.48h2.74v2.74h-2.74zM310.10 1939.48h2.74v2.74h-2.74zM315.58 1939.48h2.74v2.74h-2.74zM318.32 1939.48h2.74v2.74h-2.74zM326.54 1939.48h2.74v2.74h-2.74zM329.28 1939.48h2.74v2.74h-2.74zM332.02 1939.48h2.74v2.74h-2.74zM334.76 1939.48h2.74v2.74h-2.74zM340.24 1939.48h2.74v2.74h-2.74zM342.98 1939.48h2.74v2.74h-2.74zM348.46 1939.48h2.74v2.74h-2.74zM351.20 1939.48h2.74v2.74h-2.74zM359.42 1939.48h2.74v2.74h-2.74zM362.16 1939.48h2.74v2.74h-2.74zM364.90 1939.48h2.74v2.74h-2.74zM370.38 1939.48h2.74v2.74h-2.74zM378.60 1939.48h2.74v2.74h-2.74zM269.00 1942.22h2.74v2.74h-2.74zM277.22 1942.22h2.74v2.74h-2.74zM282.70 1942.22h2.74v2.74h-2.74zM288.18 1942.22h2.74v2.74h-2.74zM290.92 1942.22h2.74v2.74h-2.74zM304.62 1942.22h2.74v2.74h-2.74zM307.36 1942.22h2.74v2.74h-2.74zM310.10 1942.22h2.74v2.74h-2.74zM318.32 1942.22h2.74v2.74h-2.74zM321.06 1942.22h2.74v2.74h-2.74zM323.80 1942.22h2.74v2.74h-2.74zM326.54 1942.22h2.74v2.74h-2.74zM332.02 1942.22h2.74v2.74h-2.74zM348.46 1942.22h2.74v2.74h-2.74zM351.20 1942.22h2.74v2.74h-2.74zM353.94 1942.22h2.74v2.74h-2.74zM359.42 1942.22h2.74v2.74h-2.74zM362.16 1942.22h2.74v2.74h-2.74zM367.64 1942.22h2.74v2.74h-2.74zM370.38 1942.22h2.74v2.74h-2.74zM373.12 1942.22h2.74v2.74h-2.74zM378.60 1942.22h2.74v2.74h-2.74zM277.22 1944.96h2.74v2.74h-2.74zM279.96 1944.96h2.74v2.74h-2.74zM282.70 1944.96h2.74v2.74h-2.74zM285.44 1944.96h2.74v2.74h-2.74zM288.18 1944.96h2.74v2.74h-2.74zM293.66 1944.96h2.74v2.74h-2.74zM296.40 1944.96h2.74v2.74h-2.74zM299.14 1944.96h2.74v2.74h-2.74zM315.58 1944.96h2.74v2.74h-2.74zM321.06 1944.96h2.74v2.74h-2.74zM326.54 1944.96h2.74v2.74h-2.74zM332.02 1944.96h2.74v2.74h-2.74zM334.76 1944.96h2.74v2.74h-2.74zM337.50 1944.96h2.74v2.74h-2.74zM340.24 1944.96h2.74v2.74h-2.74zM348.46 1944.96h2.74v2.74h-2.74zM351.20 1944.96h2.74v2.74h-2.74zM359.42 1944.96h2.74v2.74h-2.74zM370.38 1944.96h2.74v2.74h-2.74zM373.12 1944.96h2.74v2.74h-2.74zM271.74 1947.70h2.74v2.74h-2.74zM274.48 1947.70h2.74v2.74h-2.74zM277.22 1947.70h2.74v2.74h-2.74zM279.96 1947.70h2.74v2.74h-2.74zM293.66 1947.70h2.74v2.74h-2.74zM299.14 1947.70h2.74v2.74h-2.74zM301.88 1947.70h2.74v2.74h-2.74zM310.10 1947.70h2.74v2.74h-2.74zM318.32 1947.70h2.74v2.74h-2.74zM321.06 1947.70h2.74v2.74h-2.74zM323.80 1947.70h2.74v2.74h-2.74zM326.54 1947.70h2.74v2.74h-2.74zM329.28 1947.70h2.74v2.74h-2.74zM337.50 1947.70h2.74v2.74h-2.74zM340.24 1947.70h2.74v2.74h-2.74zM342.98 1947.70h2.74v2.74h-2.74zM348.46 1947.70h2.74v2.74h-2.74zM351.20 1947.70h2.74v2.74h-2.74zM353.94 1947.70h2.74v2.74h-2.74zM362.16 1947.70h2.74v2.74h-2.74zM364.90 1947.70h2.74v2.74h-2.74zM367.64 1947.70h2.74v2.74h-2.74zM375.86 1947.70h2.74v2.74h-2.74zM378.60 1947.70h2.74v2.74h-2.74zM271.74 1950.44h2.74v2.74h-2.74zM274.48 1950.44h2.74v2.74h-2.74zM277.22 1950.44h2.74v2.74h-2.74zM282.70 1950.44h2.74v2.74h-2.74zM285.44 1950.44h2.74v2.74h-2.74zM290.92 1950.44h2.74v2.74h-2.74zM293.66 1950.44h2.74v2.74h-2.74zM301.88 1950.44h2.74v2.74h-2.74zM304.62 1950.44h2.74v2.74h-2.74zM310.10 1950.44h2.74v2.74h-2.74zM312.84 1950.44h2.74v2.74h-2.74zM318.32 1950.44h2.74v2.74h-2.74zM323.80 1950.44h2.74v2.74h-2.74zM329.28 1950.44h2.74v2.74h-2.74zM332.02 1950.44h2.74v2.74h-2.74zM334.76 1950.44h2.74v2.74h-2.74zM345.72 1950.44h2.74v2.74h-2.74zM351.20 1950.44h2.74v2.74h-2.74zM356.68 1950.44h2.74v2.74h-2.74zM359.42 1950.44h2.74v2.74h-2.74zM367.64 1950.44h2.74v2.74h-2.74zM370.38 1950.44h2.74v2.74h-2.74zM378.60 1950.44h2.74v2.74h-2.74zM269.00 1953.18h2.74v2.74h-2.74zM277.22 1953.18h2.74v2.74h-2.74zM279.96 1953.18h2.74v2.74h-2.74zM288.18 1953.18h2.74v2.74h-2.74zM299.14 1953.18h2.74v2.74h-2.74zM304.62 1953.18h2.74v2.74h-2.74zM307.36 1953.18h2.74v2.74h-2.74zM315.58 1953.18h2.74v2.74h-2.74zM318.32 1953.18h2.74v2.74h-2.74zM321.06 1953.18h2.74v2.74h-2.74zM326.54 1953.18h2.74v2.74h-2.74zM329.28 1953.18h2.74v2.74h-2.74zM332.02 1953.18h2.74v2.74h-2.74zM340.24 1953.18h2.74v2.74h-2.74zM348.46 1953.18h2.74v2.74h-2.74zM353.94 1953.18h2.74v2.74h-2.74zM364.90 1953.18h2.74v2.74h-2.74zM367.64 1953.18h2.74v2.74h-2.74zM373.12 1953.18h2.74v2.74h-2.74zM378.60 1953.18h2.74v2.74h-2.74zM269.00 1955.92h2.74v2.74h-2.74zM271.74 1955.92h2.74v2.74h-2.74zM277.22 1955.92h2.74v2.74h-2.74zM279.96 1955.92h2.74v2.74h-2.74zM285.44 1955.92h2.74v2.74h-2.74zM290.92 1955.92h2.74v2.74h-2.74zM293.66 1955.92h2.74v2.74h-2.74zM296.40 1955.92h2.74v2.74h-2.74zM299.14 1955.92h2.74v2.74h-2.74zM301.88 1955.92h2.74v2.74h-2.74zM304.62 1955.92h2.74v2.74h-2.74zM307.36 1955.92h2.74v2.74h-2.74zM310.10 1955.92h2.74v2.74h-2.74zM315.58 1955.92h2.74v2.74h-2.74zM321.06 1955.92h2.74v2.74h-2.74zM332.02 1955.92h2.74v2.74h-2.74zM337.50 1955.92h2.74v2.74h-2.74zM342.98 1955.92h2.74v2.74h-2.74zM356.68 1955.92h2.74v2.74h-2.74zM362.16 1955.92h2.74v2.74h-2.74zM370.38 1955.92h2.74v2.74h-2.74zM378.60 1955.92h2.74v2.74h-2.74zM269.00 1958.66h2.74v2.74h-2.74zM274.48 1958.66h2.74v2.74h-2.74zM279.96 1958.66h2.74v2.74h-2.74zM288.18 1958.66h2.74v2.74h-2.74zM296.40 1958.66h2.74v2.74h-2.74zM299.14 1958.66h2.74v2.74h-2.74zM304.62 1958.66h2.74v2.74h-2.74zM307.36 1958.66h2.74v2.74h-2.74zM310.10 1958.66h2.74v2.74h-2.74zM312.84 1958.66h2.74v2.74h-2.74zM323.80 1958.66h2.74v2.74h-2.74zM329.28 1958.66h2.74v2.74h-2.74zM337.50 1958.66h2.74v2.74h-2.74zM351.20 1958.66h2.74v2.74h-2.74zM359.42 1958.66h2.74v2.74h-2.74zM364.90 1958.66h2.74v2.74h-2.74zM373.12 1958.66h2.74v2.74h-2.74zM378.60 1958.66h2.74v2.74h-2.74zM269.00 1961.40h2.74v2.74h-2.74zM274.48 1961.40h2.74v2.74h-2.74zM279.96 1961.40h2.74v2.74h-2.74zM285.44 1961.40h2.74v2.74h-2.74zM296.40 1961.40h2.74v2.74h-2.74zM299.14 1961.40h2.74v2.74h-2.74zM301.88 1961.40h2.74v2.74h-2.74zM304.62 1961.40h2.74v2.74h-2.74zM310.10 1961.40h2.74v2.74h-2.74zM318.32 1961.40h2.74v2.74h-2.74zM321.06 1961.40h2.74v2.74h-2.74zM326.54 1961.40h2.74v2.74h-2.74zM329.28 1961.40h2.74v2.74h-2.74zM332.02 1961.40h2.74v2.74h-2.74zM334.76 1961.40h2.74v2.74h-2.74zM337.50 1961.40h2.74v2.74h-2.74zM340.24 1961.40h2.74v2.74h-2.74zM348.46 1961.40h2.74v2.74h-2.74zM353.94 1961.40h2.74v2.74h-2.74zM356.68 1961.40h2.74v2.74h-2.74zM362.16 1961.40h2.74v2.74h-2.74zM364.90 1961.40h2.74v2.74h-2.74zM367.64 1961.40h2.74v2.74h-2.74zM378.60 1961.40h2.74v2.74h-2.74zM269.00 1964.14h2.74v2.74h-2.74zM271.74 1964.14h2.74v2.74h-2.74zM279.96 1964.14h2.74v2.74h-2.74zM288.18 1964.14h2.74v2.74h-2.74zM296.40 1964.14h2.74v2.74h-2.74zM301.88 1964.14h2.74v2.74h-2.74zM307.36 1964.14h2.74v2.74h-2.74zM310.10 1964.14h2.74v2.74h-2.74zM312.84 1964.14h2.74v2.74h-2.74zM318.32 1964.14h2.74v2.74h-2.74zM326.54 1964.14h2.74v2.74h-2.74zM329.28 1964.14h2.74v2.74h-2.74zM342.98 1964.14h2.74v2.74h-2.74zM345.72 1964.14h2.74v2.74h-2.74zM348.46 1964.14h2.74v2.74h-2.74zM351.20 1964.14h2.74v2.74h-2.74zM362.16 1964.14h2.74v2.74h-2.74zM370.38 1964.14h2.74v2.74h-2.74zM375.86 1964.14h2.74v2.74h-2.74zM378.60 1964.14h2.74v2.74h-2.74zM269.00 1966.88h2.74v2.74h-2.74zM271.74 1966.88h2.74v2.74h-2.74zM274.48 1966.88h2.74v2.74h-2.74zM277.22 1966.88h2.74v2.74h-2.74zM285.44 1966.88h2.74v2.74h-2.74zM293.66 1966.88h2.74v2.74h-2.74zM299.14 1966.88h2.74v2.74h-2.74zM307.36 1966.88h2.74v2.74h-2.74zM315.58 1966.88h2.74v2.74h-2.74zM321.06 1966.88h2.74v2.74h-2.74zM323.80 1966.88h2.74v2.74h-2.74zM326.54 1966.88h2.74v2.74h-2.74zM337.50 1966.88h2.74v2.74h-2.74zM342.98 1966.88h2.74v2.74h-2.74zM345.72 1966.88h2.74v2.74h-2.74zM356.68 1966.88h2.74v2.74h-2.74zM359.42 1966.88h2.74v2.74h-2.74zM362.16 1966.88h2.74v2.74h-2.74zM364.90 1966.88h2.74v2.74h-2.74zM367.64 1966.88h2.74v2.74h-2.74zM375.86 1966.88h2.74v2.74h-2.74zM296.40 1969.62h2.74v2.74h-2.74zM304.62 1969.62h2.74v2.74h-2.74zM307.36 1969.62h2.74v2.74h-2.74zM312.84 1969.62h2.74v2.74h-2.74zM318.32 1969.62h2.74v2.74h-2.74zM321.06 1969.62h2.74v2.74h-2.74zM323.80 1969.62h2.74v2.74h-2.74zM329.28 1969.62h2.74v2.74h-2.74zM332.02 1969.62h2.74v2.74h-2.74zM334.76 1969.62h2.74v2.74h-2.74zM337.50 1969.62h2.74v2.74h-2.74zM351.20 1969.62h2.74v2.74h-2.74zM356.68 1969.62h2.74v2.74h-2.74zM367.64 1969.62h2.74v2.74h-2.74zM370.38 1969.62h2.74v2.74h-2.74zM269.00 1972.36h2.74v2.74h-2.74zM271.74 1972.36h2.74v2.74h-2.74zM274.48 1972.36h2.74v2.74h-2.74zM277.22 1972.36h2.74v2.74h-2.74zM279.96 1972.36h2.74v2.74h-2.74zM282.70 1972.36h2.74v2.74h-2.74zM285.44 1972.36h2.74v2.74h-2.74zM290.92 1972.36h2.74v2.74h-2.74zM301.88 1972.36h2.74v2.74h-2.74zM304.62 1972.36h2.74v2.74h-2.74zM307.36 1972.36h2.74v2.74h-2.74zM310.10 1972.36h2.74v2.74h-2.74zM326.54 1972.36h2.74v2.74h-2.74zM329.28 1972.36h2.74v2.74h-2.74zM332.02 1972.36h2.74v2.74h-2.74zM337.50 1972.36h2.74v2.74h-2.74zM340.24 1972.36h2.74v2.74h-2.74zM342.98 1972.36h2.74v2.74h-2.74zM345.72 1972.36h2.74v2.74h-2.74zM348.46 1972.36h2.74v2.74h-2.74zM351.20 1972.36h2.74v2.74h-2.74zM356.68 1972.36h2.74v2.74h-2.74zM362.16 1972.36h2.74v2.74h-2.74zM367.64 1972.36h2.74v2.74h-2.74zM370.38 1972.36h2.74v2.74h-2.74zM373.12 1972.36h2.74v2.74h-2.74zM269.00 1975.10h2.74v2.74h-2.74zM285.44 1975.10h2.74v2.74h-2.74zM296.40 1975.10h2.74v2.74h-2.74zM299.14 1975.10h2.74v2.74h-2.74zM301.88 1975.10h2.74v2.74h-2.74zM307.36 1975.10h2.74v2.74h-2.74zM315.58 1975.10h2.74v2.74h-2.74zM321.06 1975.10h2.74v2.74h-2.74zM326.54 1975.10h2.74v2.74h-2.74zM329.28 1975.10h2.74v2.74h-2.74zM332.02 1975.10h2.74v2.74h-2.74zM340.24 1975.10h2.74v2.74h-2.74zM342.98 1975.10h2.74v2.74h-2.74zM345.72 1975.10h2.74v2.74h-2.74zM351.20 1975.10h2.74v2.74h-2.74zM353.94 1975.10h2.74v2.74h-2.74zM356.68 1975.10h2.74v2.74h-2.74zM367.64 1975.10h2.74v2.74h-2.74zM370.38 1975.10h2.74v2.74h-2.74zM375.86 1975.10h2.74v2.74h-2.74zM269.00 1977.84h2.74v2.74h-2.74zM274.48 1977.84h2.74v2.74h-2.74zM277.22 1977.84h2.74v2.74h-2.74zM279.96 1977.84h2.74v2.74h-2.74zM285.44 1977.84h2.74v2.74h-2.74zM290.92 1977.84h2.74v2.74h-2.74zM293.66 1977.84h2.74v2.74h-2.74zM299.14 1977.84h2.74v2.74h-2.74zM301.88 1977.84h2.74v2.74h-2.74zM307.36 1977.84h2.74v2.74h-2.74zM321.06 1977.84h2.74v2.74h-2.74zM323.80 1977.84h2.74v2.74h-2.74zM326.54 1977.84h2.74v2.74h-2.74zM332.02 1977.84h2.74v2.74h-2.74zM337.50 1977.84h2.74v2.74h-2.74zM340.24 1977.84h2.74v2.74h-2.74zM342.98 1977.84h2.74v2.74h-2.74zM351.20 1977.84h2.74v2.74h-2.74zM356.68 1977.84h2.74v2.74h-2.74zM359.42 1977.84h2.74v2.74h-2.74zM362.16 1977.84h2.74v2.74h-2.74zM364.90 1977.84h2.74v2.74h-2.74zM367.64 1977.84h2.74v2.74h-2.74zM370.38 1977.84h2.74v2.74h-2.74zM373.12 1977.84h2.74v2.74h-2.74zM269.00 1980.58h2.74v2.74h-2.74zM274.48 1980.58h2.74v2.74h-2.74zM277.22 1980.58h2.74v2.74h-2.74zM279.96 1980.58h2.74v2.74h-2.74zM285.44 1980.58h2.74v2.74h-2.74zM296.40 1980.58h2.74v2.74h-2.74zM299.14 1980.58h2.74v2.74h-2.74zM301.88 1980.58h2.74v2.74h-2.74zM312.84 1980.58h2.74v2.74h-2.74zM315.58 1980.58h2.74v2.74h-2.74zM323.80 1980.58h2.74v2.74h-2.74zM326.54 1980.58h2.74v2.74h-2.74zM332.02 1980.58h2.74v2.74h-2.74zM334.76 1980.58h2.74v2.74h-2.74zM337.50 1980.58h2.74v2.74h-2.74zM345.72 1980.58h2.74v2.74h-2.74zM348.46 1980.58h2.74v2.74h-2.74zM351.20 1980.58h2.74v2.74h-2.74zM353.94 1980.58h2.74v2.74h-2.74zM359.42 1980.58h2.74v2.74h-2.74zM362.16 1980.58h2.74v2.74h-2.74zM364.90 1980.58h2.74v2.74h-2.74zM373.12 1980.58h2.74v2.74h-2.74zM378.60 1980.58h2.74v2.74h-2.74zM269.00 1983.32h2.74v2.74h-2.74zM274.48 1983.32h2.74v2.74h-2.74zM277.22 1983.32h2.74v2.74h-2.74zM279.96 1983.32h2.74v2.74h-2.74zM285.44 1983.32h2.74v2.74h-2.74zM290.92 1983.32h2.74v2.74h-2.74zM301.88 1983.32h2.74v2.74h-2.74zM304.62 1983.32h2.74v2.74h-2.74zM310.10 1983.32h2.74v2.74h-2.74zM312.84 1983.32h2.74v2.74h-2.74zM315.58 1983.32h2.74v2.74h-2.74zM318.32 1983.32h2.74v2.74h-2.74zM321.06 1983.32h2.74v2.74h-2.74zM334.76 1983.32h2.74v2.74h-2.74zM337.50 1983.32h2.74v2.74h-2.74zM342.98 1983.32h2.74v2.74h-2.74zM351.20 1983.32h2.74v2.74h-2.74zM359.42 1983.32h2.74v2.74h-2.74zM362.16 1983.32h2.74v2.74h-2.74zM269.00 1986.06h2.74v2.74h-2.74zM285.44 1986.06h2.74v2.74h-2.74zM293.66 1986.06h2.74v2.74h-2.74zM296.40 1986.06h2.74v2.74h-2.74zM301.88 1986.06h2.74v2.74h-2.74zM304.62 1986.06h2.74v2.74h-2.74zM315.58 1986.06h2.74v2.74h-2.74zM318.32 1986.06h2.74v2.74h-2.74zM321.06 1986.06h2.74v2.74h-2.74zM326.54 1986.06h2.74v2.74h-2.74zM334.76 1986.06h2.74v2.74h-2.74zM342.98 1986.06h2.74v2.74h-2.74zM345.72 1986.06h2.74v2.74h-2.74zM351.20 1986.06h2.74v2.74h-2.74zM356.68 1986.06h2.74v2.74h-2.74zM367.64 1986.06h2.74v2.74h-2.74zM269.00 1988.80h2.74v2.74h-2.74zM271.74 1988.80h2.74v2.74h-2.74zM274.48 1988.80h2.74v2.74h-2.74zM277.22 1988.80h2.74v2.74h-2.74zM279.96 1988.80h2.74v2.74h-2.74zM282.70 1988.80h2.74v2.74h-2.74zM285.44 1988.80h2.74v2.74h-2.74zM299.14 1988.80h2.74v2.74h-2.74zM304.62 1988.80h2.74v2.74h-2.74zM310.10 1988.80h2.74v2.74h-2.74zM315.58 1988.80h2.74v2.74h-2.74zM321.06 1988.80h2.74v2.74h-2.74zM323.80 1988.80h2.74v2.74h-2.74zM326.54 1988.80h2.74v2.74h-2.74zM329.28 1988.80h2.74v2.74h-2.74zM332.02 1988.80h2.74v2.74h-2.74zM334.76 1988.80h2.74v2.74h-2.74zM337.50 1988.80h2.74v2.74h-2.74zM342.98 1988.80h2.74v2.74h-2.74zM345.72 1988.80h2.74v2.74h-2.74zM348.46 1988.80h2.74v2.74h-2.74zM359.42 1988.80h2.74v2.74h-2.74zM364.90 1988.80h2.74v2.74h-2.74zM367.64 1988.80h2.74v2.74h-2.74zM370.38 1988.80h2.74v2.74h-2.74z" fill="#111"/>
<rect x="309.4" y="1919.8" width="31.2" height="31.6" rx="2.5" fill="#ffffff" shape-rendering="geometricPrecision"/>
<rect x="311.3" y="1921.7" width="27.7" height="27.8" rx="1.5" fill="#c0141f" shape-rendering="geometricPrecision"/>
<text x="313.5" y="1934.2" font-family="Noto Serif CJK TC, serif" font-weight="900" font-size="5.6" fill="#fff" font-style="italic" textLength="23.5" lengthAdjust="spacingAndGlyphs" shape-rendering="geometricPrecision">石家莊日報</text>
<rect x="314" y="1937.3" width="6.5" height="1.4" fill="#f4c8c8"/><rect x="322" y="1937.3" width="6.5" height="1.4" fill="#f4c8c8"/><rect x="330" y="1937.3" width="6.5" height="1.4" fill="#f4c8c8"/>
</svg>
<div class="a banner"></div>
<div class="a bt b1" style="top:983px;left:0;"><span style="left:44.5px">【</span><span style="left:82.75px;letter-spacing:0.1px">疫情最新数据消息河北省石家庄</span><span style="left:559.5px;transform:scaleX(1.25);transform-origin:0 0">/</span><span style="left:575.9px">疫</span></div>
<div class="a bt" style="top:1025px;left:48px;">情最新数据消息河北省石家庄市天气</div>
</body>
</html>
